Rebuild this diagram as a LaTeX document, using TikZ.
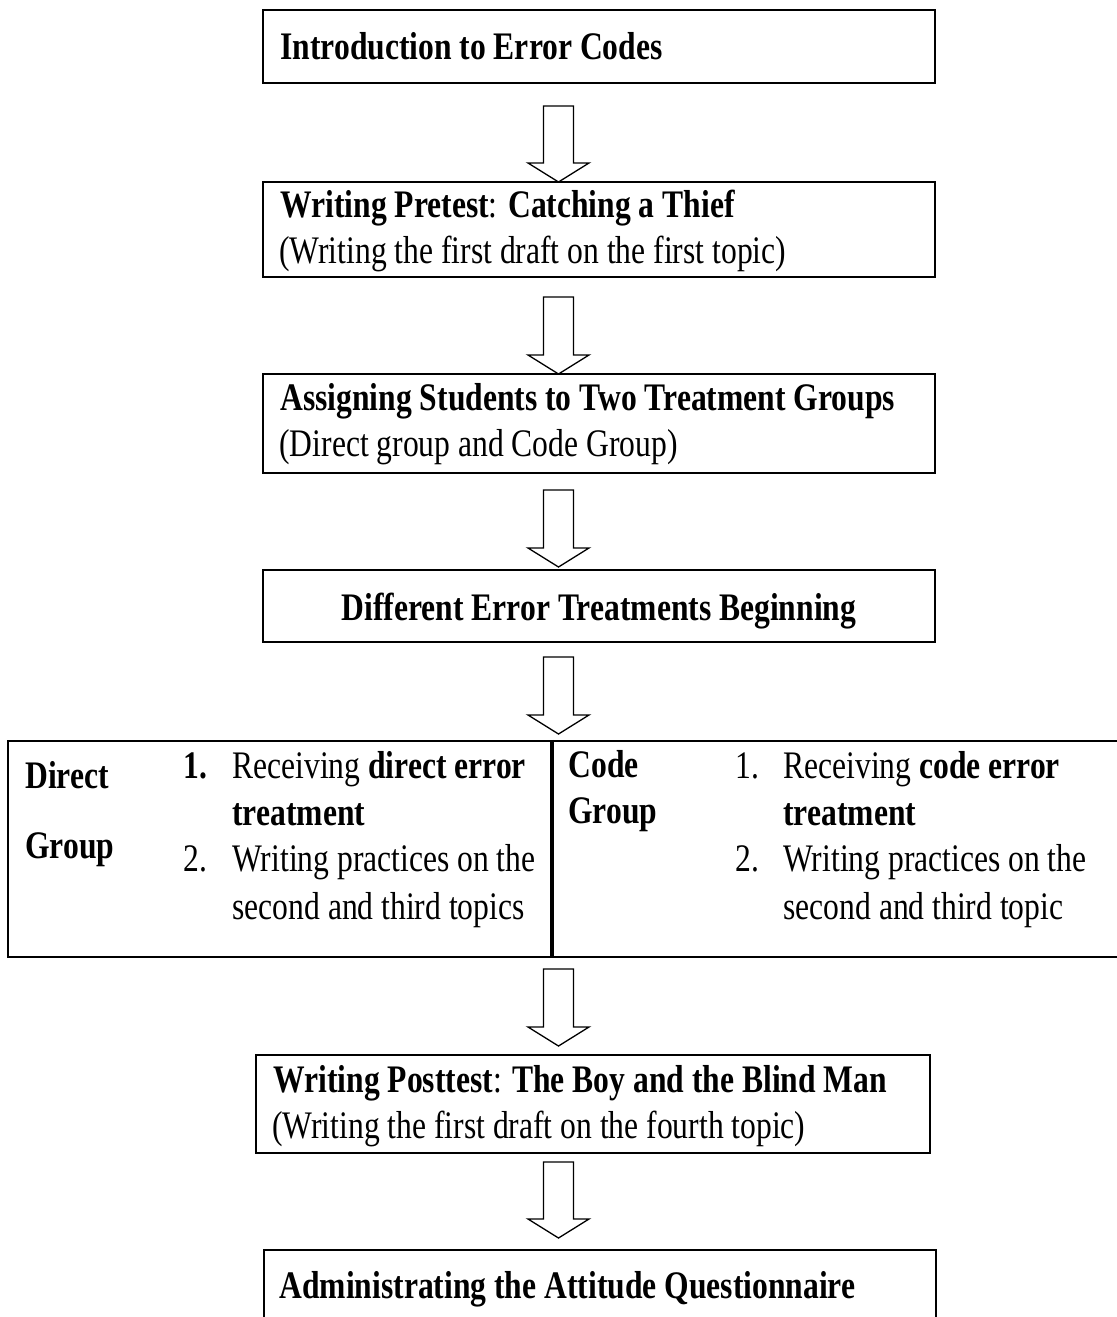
\documentclass[tikz,border=0pt]{standalone}
\usepackage{fontspec}
\setmainfont{Liberation Serif}[FakeStretch=0.81]
\usetikzlibrary{calc,fit}
\newcommand\blockarrow[2]{\draw[arr] ($(#1)+(-15,0)$) -- ($(#2)+(-15,-19)$) -- ($(#2)+(-30.5,-19)$) -- (#2) -- ($(#2)+(30.5,-19)$) -- ($(#2)+(15,-19)$) -- ($(#1)+(15,0)$) -- cycle;}
\begin{document}
\begin{tikzpicture}[x=0.5pt,y=-0.5pt,
  font=\fontsize{19.5pt}{19.5pt}\selectfont,
  box/.style={draw, line width=1.2pt, inner sep=0pt, rectangle},
  txt/.style={inner sep=0pt, anchor=base west},
  arr/.style={draw, line width=0.65pt, fill=white, line join=miter}]
\useasboundingbox (0,0) rectangle (1117,1317);
\clip (0,0) rectangle (1117,1317);
\fill[white] (0,0) rectangle (1117,1317);
% boxes
\node[box, fit={(263,10) (935,83)}] (b1) {};
\node[box, fit={(263,182) (935,277)}] (b2) {};
\node[box, fit={(263,374) (935,473)}] (b3) {};
\node[box, fit={(263,570) (935,642)}] (b4) {};
\node[box, fit={(8,741) (551,957)}] (gl) {};
\node[box, fit={(551,741) (1135,957)}] (gr) {};
\draw[line width=2pt] (gl.north east) -- (gl.south east);
\node[box, fit={(256,1055) (930,1153)}] (b6) {};
\node[box, fit={(264,1250) (936,1340)}] (b7) {};
% texts
\node[txt] (t1) at (280,59) {\textbf{Introduction to Error Codes}};
\node[txt] (t2a) at (280,217) {\textbf{Writing Pretest}: \textbf{Catching a Thief}};
\node[txt] (t2b) at (279,263) {(Writing the first draft on the first topic)};
\node[txt] (t3a) at (280,410) {\textbf{Assigning Students to Two Treatment Groups}};
\node[txt] (t3b) at (279,456) {(Direct group and Code Group)};
\node[inner sep=0pt, anchor=base] (t4) at (599,620) {\textbf{Different Error Treatments Beginning}};
% left group
\node[txt] (dl1) at (25,788) {\textbf{Direct}};
\node[txt] (dl2) at (25,858) {\textbf{Group}};
\node[txt] (dn1) at (183,778) {\textbf{1.}};
\node[txt] (di1) at (232,778) {Receiving \textbf{direct error}};
\node[txt] (di1b) at (232,825) {\textbf{treatment}};
\node[txt] (dn2) at (183,871) {2.};
\node[txt] (di2) at (232,871) {Writing practices on the};
\node[txt] (di2b) at (232,919) {second and third topics};
% right group
\node[txt] (cl1) at (568,777) {\textbf{Code}};
\node[txt] (cl2) at (568,823) {\textbf{Group}};
\node[txt] (cn1) at (735,778) {1.};
\node[txt] (ci1) at (783,778) {Receiving \textbf{code error}};
\node[txt] (ci1b) at (783,825) {\textbf{treatment}};
\node[txt] (cn2) at (735,871) {2.};
\node[txt] (ci2) at (783,871) {Writing practices on the};
\node[txt] (ci2b) at (783,919) {second and third topic};
% lower boxes
\node[txt] (t6a) at (273,1092) {\textbf{Writing Posttest}: \textbf{The Boy and the Blind Man}};
\node[txt] (t6b) at (272,1138) {(Writing the first draft on the fourth topic)};
\node[txt] (t7) at (279,1298) {\textbf{Administrating the Attitude Questionnaire}};
% arrows
\coordinate (a1s) at (558.5,106); \coordinate (a1e) at (558.5,182);
\coordinate (a2s) at (558.5,297); \coordinate (a2e) at (558.5,374);
\coordinate (a3s) at (558.5,490); \coordinate (a3e) at (558.5,567);
\coordinate (a4s) at (558.5,657); \coordinate (a4e) at (558.5,734);
\coordinate (a5s) at (558.5,969); \coordinate (a5e) at (558.5,1046);
\coordinate (a6s) at (558.5,1162); \coordinate (a6e) at (558.5,1238);
\blockarrow{a1s}{a1e}
\blockarrow{a2s}{a2e}
\blockarrow{a3s}{a3e}
\blockarrow{a4s}{a4e}
\blockarrow{a5s}{a5e}
\blockarrow{a6s}{a6e}
\end{tikzpicture}
\end{document}
